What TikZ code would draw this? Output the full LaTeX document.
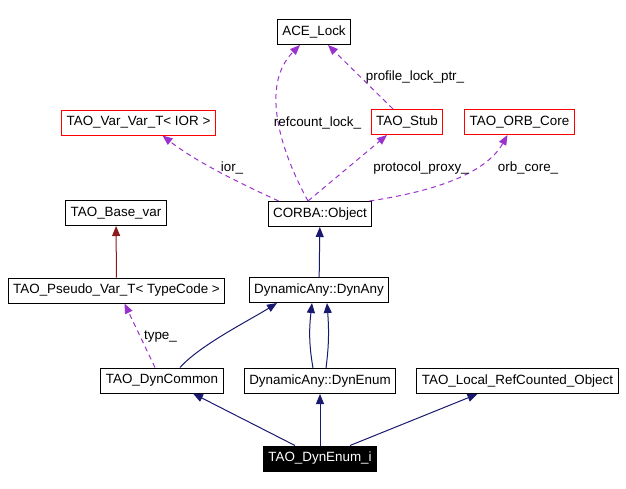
\documentclass[tikz,border=0pt]{standalone}
\usepackage{fontspec}
\setmainfont{Liberation Sans}
\usetikzlibrary{arrows.meta}
\definecolor{usecol}{HTML}{9A32CD}
\definecolor{isacol}{HTML}{191970}
\definecolor{tplcol}{HTML}{8B1A1A}

\begin{document}
\begin{tikzpicture}[x = 1pt, y = -1pt, line width = 1pt,
		font = \fontsize{13.4}{15}\selectfont,
		cls/.style = {draw, fill = white, minimum height = 25pt, inner xsep = 5pt},
		undoc/.style = {cls, draw = red},
		focus/.style = {cls, fill = black, text = white},
		lbl/.style = {inner sep = 0pt},
		uses/.style = {draw = usecol, dash pattern = on 5pt off 4pt, -{Triangle[length = 10pt, width = 8pt]}},
		isa/.style = {draw = isacol, -{Triangle[length = 10pt, width = 8pt]}},
		tpl/.style = {draw = tplcol, -{Triangle[length = 10pt, width = 8pt]}}]
		
		\useasboundingbox (0,0) rectangle (626,488);
		
		\node [cls] (lock) at (314,32) {ACE\_Lock};
		\node [undoc] (iorvar) at (138.5,122.5) {TAO\_Var\_Var\_T< IOR >};
		\node [undoc] (stub) at (407,122) {TAO\_Stub};
		\node [undoc] (orb) at (519.5,122) {TAO\_ORB\_Core};
		\node [cls] (obj) at (320,214) {CORBA::Object};
		\node [cls] (base) at (116,213) {TAO\_Base\_var};
		\node [cls] (pseudo) at (116.5,290.5) {TAO\_Pseudo\_Var\_T< TypeCode >};
		\node [cls] (dynany) at (319,290) {DynamicAny::DynAny};
		\node [cls] (common) at (162,380.5) {TAO\_DynCommon};
		\node [cls] (dynenum) at (320,381) {DynamicAny::DynEnum};
		\node [cls] (local) at (517.5,381) {TAO\_Local\_RefCounted\_Object};
		\node [focus] (enumi) at (320,458.5) {TAO\_DynEnum\_i};
		
		\draw [uses] ([xshift = -12pt]obj.north) .. controls (280,150) and (260,85) .. ([xshift = -14pt]lock.south);
		\draw [uses] ([xshift = -14pt]stub.north) -- ([xshift = 14pt]lock.south);
		\draw [uses] ([xshift = -12pt]obj.north) -- ([xshift = -20pt]stub.south);
		\draw [uses] ([xshift = -3pt]obj.north east) .. controls (430,192) and (485,175) .. ([xshift = -12pt]orb.south);
		\draw [uses] ([xshift = 11pt]obj.north west) .. controls (255,190) and (200,165) .. ([xshift = 24pt]iorvar.south);
		\draw [uses] ([xshift = -7pt]common.north) -- ([xshift = 8pt]pseudo.south);
		
		\node [lbl] (l1) at (317.5,123) {refcount\_lock\_};
		\node [lbl] (l2) at (415,77) {profile\_lock\_ptr\_};
		\node [lbl] (l3) at (421,168) {protocol\_proxy\_};
		\node [lbl] (l4) at (528,168) {orb\_core\_};
		\node [lbl] (l5) at (232,168) {ior\_};
		\node [lbl] (l6) at (160.5,337) {type\_};
		
		\draw [tpl] (pseudo) -- (base);
		\draw [isa] (dynany) -- (obj);
		\draw [isa] ([xshift = 18pt]common.north) .. controls (200,345) and (250,320) .. ([xshift = -42pt]dynany.south);
		\draw [isa] ([xshift = -7pt]dynenum.north) .. controls (309,345) and (309,330) .. ([xshift = -7pt]dynany.south);
		\draw [isa] ([xshift = 6pt]dynenum.north) .. controls (329,345) and (329,330) .. ([xshift = 8pt]dynany.south);
		\draw [isa] ([xshift = -25pt]enumi.north) -- ([xshift = 31pt]common.south);
		\draw [isa] (enumi) -- (dynenum);
		\draw [isa] ([xshift = 30pt]enumi.north) -- ([xshift = -40pt]local.south);
		
		\end{tikzpicture}
\end{document}
